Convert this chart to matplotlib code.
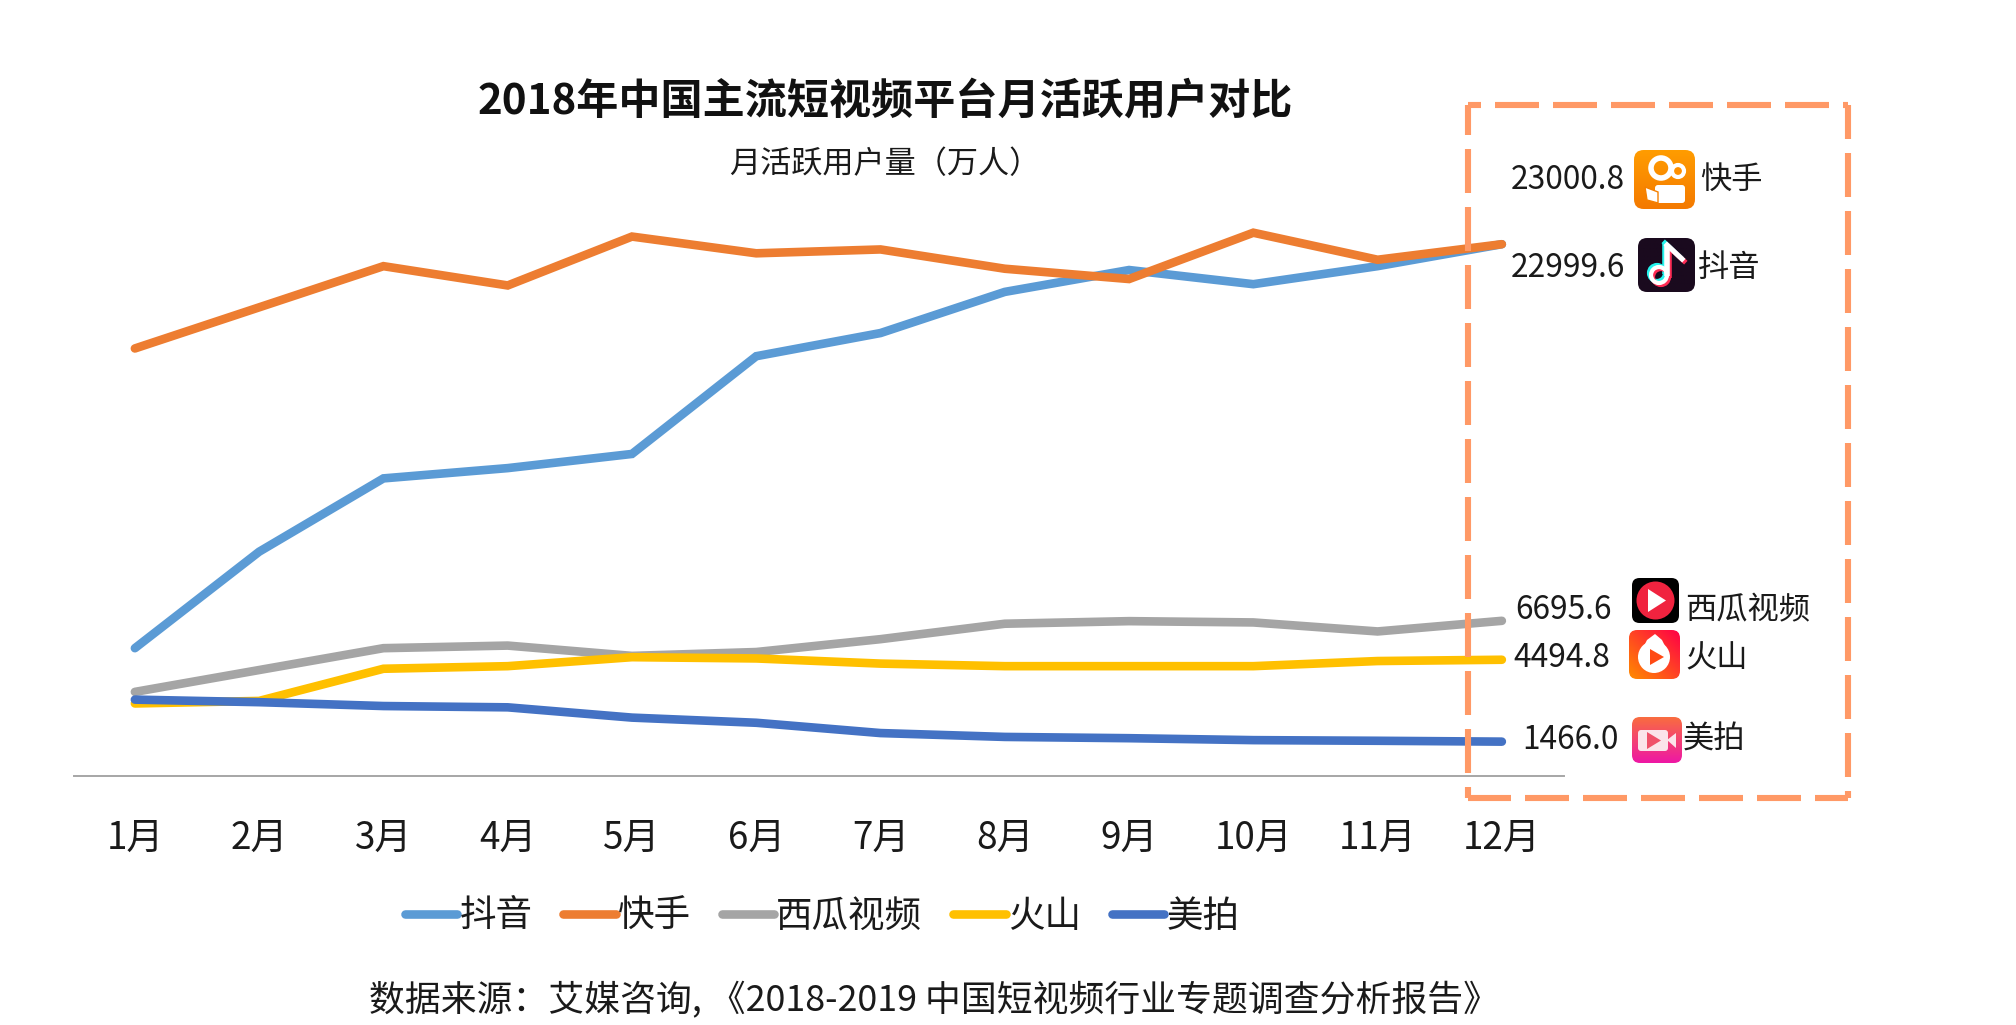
"""2018 short video platforms, monthly active users."""

import matplotlib

matplotlib.use("Agg")
import matplotlib.pyplot as plt
import numpy as np
from matplotlib.lines import Line2D
from matplotlib.patches import Circle, FancyBboxPatch, Polygon

plt.rcParams["font.family"] = ["Noto Sans CJK SC", "DejaVu Sans"]
plt.rcParams["lines.scale_dashes"] = False

months = ["1月", "2月", "3月", "4月", "5月", "6月", "7月", "8月", "9月", "10月", "11月", "12月"]
douyin = [5512, 9688, 12862, 13307, 13920, 18151, 19154, 20935, 21882, 21269, 22049, 23000]
kuaishou = [18486, 20267, 22049, 21214, 23330, 22606, 22773, 21938, 21492, 23497, 22327, 23000]
xigua = [3619, 4566, 5512, 5624, 5178, 5345, 5902, 6570, 6682, 6626, 6236, 6696]
huoshan = [3118, 3229, 4621, 4733, 5122, 5067, 4844, 4733, 4733, 4733, 4955, 5011]
meipai = [3285, 3174, 3007, 2951, 2506, 2283, 1837, 1670, 1615, 1531, 1503, 1466]

series_names = ["抖音", "快手", "西瓜视频", "火山", "美拍"]
series_values = [douyin, kuaishou, xigua, huoshan, meipai]
series_colors = ["#5B9BD5", "#ED7D31", "#A5A5A5", "#FFC000", "#4472C4"]

W, H = 2016, 1025
TEXT = "#1a1a1a"
BOX = "#FF9966"


def px_rect(left, top, right, bottom):
    return [left / W, 1 - bottom / H, (right - left) / W, (bottom - top) / H]


def rounded_icon(ax, left, top, right, bottom, colors):
    """Rounded square with a vertical or diagonal gradient fill."""
    pad = (right - left) * 0.16
    clip = FancyBboxPatch(
        (left + pad, top + pad),
        right - left - 2 * pad,
        bottom - top - 2 * pad,
        boxstyle=f"round,pad={pad},rounding_size={pad}",
        fc="none",
        ec="none",
        transform=ax.transData,
    )
    ax.add_patch(clip)
    c0, c1, diagonal = colors
    u, v = np.meshgrid(np.linspace(0, 1, 40), np.linspace(0, 1, 40))
    t = (u + (1 - v)) / 2 if diagonal else v
    rgb0 = np.array(matplotlib.colors.to_rgb(c0))
    rgb1 = np.array(matplotlib.colors.to_rgb(c1))
    img = rgb0 + (rgb1 - rgb0) * t[..., None]
    im = ax.imshow(img, extent=(left, right, bottom, top), aspect="auto", zorder=3)
    im.set_clip_path(clip)


fig = plt.figure(figsize=(W / 100, H / 100), dpi=100, facecolor="white")

ax = fig.add_axes(px_rect(74, 198, 1564, 775.5))
x = np.arange(len(months))
for name, values, color in zip(series_names, series_values, series_colors):
    ax.plot(x, values, color=color, lw=6.2, solid_capstyle="round", solid_joinstyle="miter", label=name)
ax.set_xlim(-0.49, 11.5)
ax.set_ylim(0, 25000)
ax.set_xticks(x)
ax.set_xticklabels(months, fontsize=26.5, color=TEXT)
ax.set_yticks([])
ax.tick_params(axis="x", length=0, pad=31)
for side in ["top", "left", "right"]:
    ax.spines[side].set_visible(False)
ax.spines["bottom"].set_color("#A6A6A6")
ax.spines["bottom"].set_linewidth(1.4)
ax.patch.set_alpha(0)

leg = ax.legend(
    ncol=5,
    loc="center",
    bbox_to_anchor=((822 - 74) / (1564 - 74), -(916.5 - 775.5) / (775.5 - 198)),
    frameon=False,
    fontsize=26.3,
    handlelength=1.44,
    handletextpad=0.05,
    columnspacing=0.85,
    borderpad=0,
    labelcolor=TEXT,
)

# overlay in pixel coordinates for the annotations around the chart
ov = fig.add_axes([0, 0, 1, 1], zorder=5)
ov.set_axis_off()
ov.patch.set_alpha(0)

ov.text(885, 102, "2018年中国主流短视频平台月活跃用户对比", fontsize=30.3, fontweight="bold",
        color="#111111", ha="center", va="center")
ov.text(885, 165, "月活跃用户量（万人）", fontsize=22.4, color=TEXT, ha="center", va="center")
ov.text(369, 1001, "数据来源：艾媒咨询, 《2018-2019 中国短视频行业专题调查分析报告》", fontsize=25.8,
        color=TEXT, ha="left", va="center")

# dashed highlight box, each side with its own dash phase
box_sides = [
    ((1467.5, 1848), (104.5, 104.5), 31),
    ((1467.5, 1467.5), (104.5, 798), 14),
    ((1848, 1848), (104.5, 798), 10),
    ((1467.5, 1848), (798, 798), 1),
]
for xs, ys, offset in box_sides:
    ov.add_line(Line2D(xs, ys, color=BOX, lw=4.4, dash_capstyle="butt",
                       linestyle=(offset * 0.72, (44 * 0.72, 14 * 0.72))))

labels = [
    ("23000.8", 1625, 180, "快手", 1700, 180),
    ("22999.6", 1625, 268, "抖音", 1698, 268),
    ("6695.6", 1612, 610, "西瓜视频", 1685, 610),
    ("4494.8", 1610, 658, "火山", 1685, 658),
    ("1466.0", 1619, 740, "美拍", 1683, 740),
]
for value, vx, vy, name, nx, ny in labels:
    ov.text(vx, vy, value, fontsize=22.8, color=TEXT, ha="right", va="center")
    ov.text(nx, ny, name, fontsize=22.5, color=TEXT, ha="left", va="center")

# app icons
rounded_icon(ov, 1634, 150, 1695, 209, ("#FF9C00", "#F47A00", False))
ov.add_patch(Circle((1661, 168), 10, fc="none", ec="white", lw=4, zorder=4))
ov.add_patch(Circle((1678, 171), 6, fc="#FF9000", ec="white", lw=3, zorder=4))
ov.add_patch(FancyBboxPatch((1656, 186), 28, 16, boxstyle="round,pad=1,rounding_size=3", fc="white", ec="none", zorder=4))
ov.add_patch(Polygon([(1645, 187), (1658, 192), (1658, 203), (1647, 200)], fc="white", ec="#F58000", lw=1, zorder=4))

rounded_icon(ov, 1638, 238, 1695, 292, ("#1A0A1E", "#1A0A1E", False))
for offset, color in [(-2, "#25F4EE"), (2, "#FE2C55"), (0, "white")]:
    ov.plot([1667 + offset, 1667 + offset], [245 + offset, 276 + offset], color=color, lw=4, zorder=4, solid_capstyle="butt")
    ov.add_patch(Circle((1659 + offset, 275 + offset), 8, fc="none", ec=color, lw=3, zorder=4))
    ov.plot([1667 + offset, 1682 + offset], [245 + offset, 259 + offset], color=color, lw=3.6, zorder=4)

rounded_icon(ov, 1632, 578, 1679, 623, ("#000000", "#000000", False))
ov.add_patch(Circle((1655.5, 600.5), 19, fc="#F0233F", ec="none", zorder=4))
ov.add_patch(Polygon([(1648, 589), (1648, 612), (1666, 600.5)], fc="white", ec="none", zorder=5))

rounded_icon(ov, 1629, 630, 1680, 679, ("#FF8A00", "#FF0046", True))
ov.add_patch(Circle((1654, 657), 16, fc="white", ec="none", zorder=4))
ov.add_patch(Polygon([(1641, 652), (1647, 640), (1655, 634), (1662, 640), (1668, 652)], fc="white", ec="none", zorder=4))
ov.add_patch(Polygon([(1650, 649), (1650, 665), (1664, 657)], fc="#FF4A14", ec="none", zorder=5))

rounded_icon(ov, 1632, 717, 1682, 763, ("#F96C40", "#EE18A4", False))
ov.add_patch(FancyBboxPatch((1639, 731), 28, 19, boxstyle="round,pad=1,rounding_size=3", fc="#FBE3EA", ec="none", zorder=4))
ov.add_patch(Polygon([(1667, 740), (1676, 733), (1676, 748)], fc="#FBE3EA", ec="none", zorder=4))
ov.add_patch(Polygon([(1647, 732), (1647, 749), (1661, 740.5)], fc="#F0506A", ec="none", zorder=5))

ov.set_xlim(0, W)
ov.set_ylim(H, 0)

fig.savefig("out.png", dpi=100)
plt.close(fig)
